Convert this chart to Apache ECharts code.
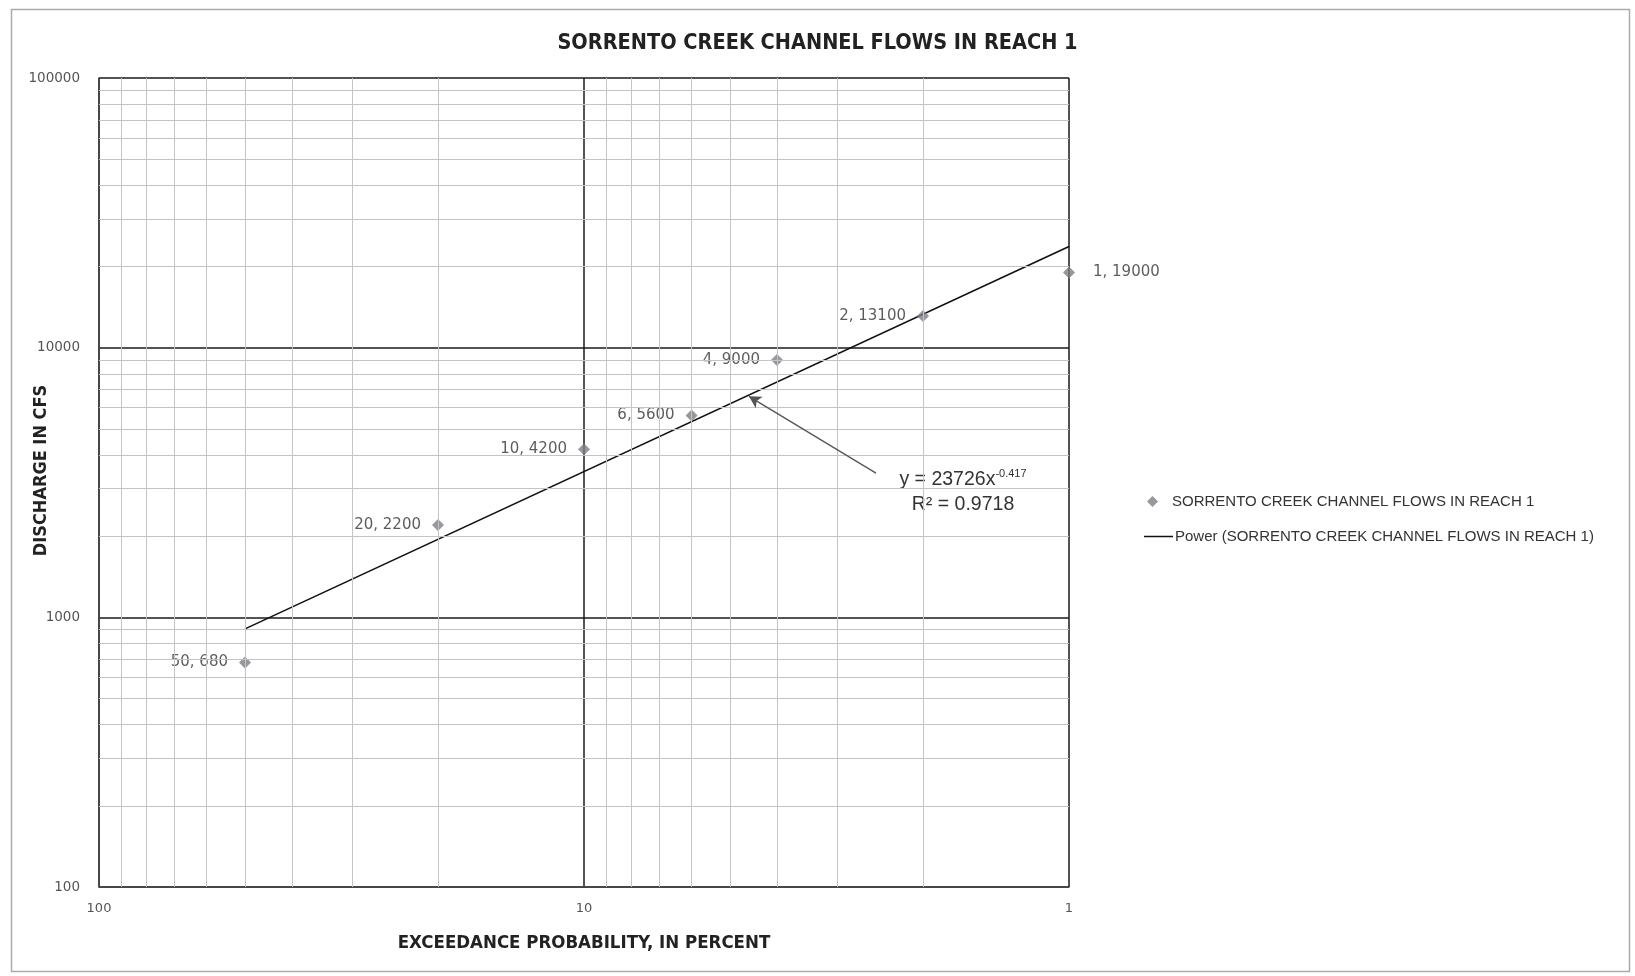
<!DOCTYPE html>
<html><head><meta charset="utf-8">
<script src="https://cdn.jsdelivr.net/npm/echarts@6/dist/echarts.min.js"></script>
<style>html,body{margin:0;padding:0;background:#fff}#c{width:1635px;height:976px}</style>
</head><body><div id="c"></div>
<script>
const titleText = 'SORRENTO CREEK CHANNEL FLOWS IN REACH 1';
const seriesName = 'SORRENTO CREEK CHANNEL FLOWS IN REACH 1';
const trendName = 'Power (SORRENTO CREEK CHANNEL FLOWS IN REACH 1)';
const probabilities = [50, 20, 10, 6, 4, 2, 1];
const discharges = [680, 2200, 4200, 5600, 9000, 13100, 19000];
const trendX = [50, 1];
const trendY = [906, 23726];
const xMinor = [2, 3, 4, 5, 6, 7, 8, 9, 20, 30, 40, 50, 60, 70, 80, 90];
const yMinor = [200, 300, 400, 500, 600, 700, 800, 900, 2000, 3000, 4000, 5000, 6000, 7000, 8000, 9000, 20000, 30000, 40000, 50000, 60000, 70000, 80000, 90000];
const arrowFrom = [2.5, 3427];
const arrowTo = [4.57, 6600];
const eqLine1Pos = [1.654, 3228];
const eqLine2Pos = [1.654, 2609];

const NARROW = '"Liberation Sans Narrow", "DejaVu Sans Condensed", "Liberation Sans", sans-serif';
const WIDE = '"DejaVu Sans", "Liberation Sans", sans-serif';
const REG = '"Liberation Sans", sans-serif';
const chart = echarts.init(document.getElementById('c'));

const last = probabilities.length - 1;
const pts = probabilities.map((p, i) => ({
  value: [p, discharges[i]],
  label: { position: i === last ? 'right' : 'left', distance: i === last ? 18 : 11 }
}));

const border = { type: 'rect', left: 9, top: 7, shape: { width: 1618, height: 962 }, style: { fill: 'none', stroke: '#aaa', lineWidth: 1.5 }, silent: true };

const option = {
  animation: false,
  backgroundColor: '#fff',
  title: {
    text: titleText, left: 'center', top: 27,
    textStyle: { fontFamily: NARROW, fontSize: 21.5, fontWeight: 'bold', color: '#222' }
  },
  grid: { left: 99, right: 566, top: 78, bottom: 89 },
  legend: [
    {
      orient: 'vertical', left: 1142, top: 489, itemWidth: 11, itemHeight: 11,
      textStyle: { fontFamily: REG, fontSize: 15, color: '#333', padding: [0, 0, 0, 9] },
      data: [{ name: seriesName, icon: 'diamond' }]
    },
    {
      orient: 'vertical', left: 1139, top: 524, itemWidth: 29, itemHeight: 1.5,
      textStyle: { fontFamily: REG, fontSize: 15, color: '#333', padding: [0, 0, 0, -3] },
      data: [{ name: trendName, icon: 'rect', itemStyle: { color: '#111' } }]
    }
  ],
  xAxis: {
    type: 'log', logBase: 10, min: 1, max: 100, inverse: true,
    name: 'EXCEEDANCE PROBABILITY, IN PERCENT', nameLocation: 'middle', nameGap: 47, nameMoveOverlap: false,
    nameTextStyle: { fontFamily: NARROW, fontSize: 18.5, fontWeight: 'bold', color: '#222' },
    axisLine: { show: true, lineStyle: { color: '#444', width: 1.5 } },
    axisTick: { show: false },
    axisLabel: { fontFamily: WIDE, fontSize: 13, color: '#555', margin: 15, formatter: v => String(v) },
    splitLine: { show: true, lineStyle: { color: '#1a1a1a', width: 1.5 } }
  },
  yAxis: {
    type: 'log', logBase: 10, min: 100, max: 100000,
    name: 'DISCHARGE IN CFS', nameLocation: 'middle', nameGap: 49, nameMoveOverlap: false,
    nameTextStyle: { fontFamily: NARROW, fontSize: 18, fontWeight: 'bold', color: '#222', padding: [0, 0, 0, 24] },
    axisLine: { show: true, lineStyle: { color: '#444', width: 1.5 } },
    axisTick: { show: false },
    axisLabel: { fontFamily: WIDE, fontSize: 13.5, color: '#555', margin: 19, formatter: v => String(v) },
    splitLine: { show: true, lineStyle: { color: '#1a1a1a', width: 1.5 } }
  },
  series: [
    {
      name: 'minorGrid', type: 'line', data: [], silent: true, legendHoverLink: false,
      markLine: {
        silent: true, symbol: 'none', animation: false,
        label: { show: false },
        lineStyle: { color: '#c4c4c4', width: 1, type: 'solid' },
        data: xMinor.map(v => ({ xAxis: v })).concat(yMinor.map(v => ({ yAxis: v })))
      }
    },
    {
      name: trendName, type: 'line', symbol: 'none', z: 3,
      lineStyle: { color: '#111', width: 1.6 }, itemStyle: { color: '#111' },
      data: trendX.map((x, i) => [x, trendY[i]]),
      markLine: {
        silent: true, symbol: ['none', 'arrow'], symbolSize: [10, 12],
        label: { show: false },
        lineStyle: { color: '#555', width: 1.3, type: 'solid' },
        data: [[{ coord: arrowFrom }, { coord: arrowTo }]]
      }
    },
    {
      name: seriesName, type: 'scatter', symbol: 'diamond', symbolSize: 12, z: 4,
      itemStyle: { color: '#7d7d85' },
      label: {
        show: true, fontFamily: WIDE, fontSize: 15, color: '#333',
        formatter: p => p.value[0] + ', ' + p.value[1]
      },
      data: pts
    }
  ],
  graphic: [border]
};
chart.setOption(option);

const eq1 = chart.convertToPixel({ gridIndex: 0 }, eqLine1Pos);
const eq2 = chart.convertToPixel({ gridIndex: 0 }, eqLine2Pos);
chart.setOption({
  graphic: [
    border,
    { type: 'text', x: eq1[0], y: eq1[1], style: {
        text: '{a|y = 23726x}{s|-0.417}', align: 'center', verticalAlign: 'middle',
        rich: { a: { fontFamily: REG, fontSize: 19.5, fill: '#333' }, s: { fontFamily: REG, fontSize: 11, fill: '#333', verticalAlign: 'top', padding: [0, 0, 12, 0] } }
      } },
    { type: 'text', x: eq2[0], y: eq2[1], style: {
        text: 'R² = 0.9718', align: 'center', verticalAlign: 'middle',
        fontFamily: REG, fontSize: 19.5, fill: '#333'
      } }
  ]
});
</script></body></html>
